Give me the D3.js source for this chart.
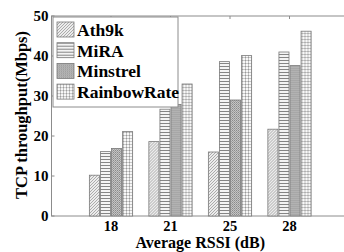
<!DOCTYPE html>
<html>
<head>
<meta charset="utf-8">
<script src="https://cdn.jsdelivr.net/npm/d3@7/dist/d3.min.js"></script>
<style>
    body { margin: 0; background: #fff; }
    text { font-family: "Liberation Serif", "Times New Roman", serif; font-weight: bold; fill: #000; }
</style>
</head>
<body>
<div id="vis"></div>
<script>
    var categories = ["18", "21", "25", "28"];
    var series = ["Ath9k", "MiRA", "Minstrel", "RainbowRate"];
    var ath9k = [10.2, 18.6, 16, 21.7];
    var mira = [16.1, 26.7, 38.6, 41];
    var minstrel = [16.9, 27.9, 29, 37.6];
    var rainbow = [21.1, 33, 40.1, 46.2];
    var yTicks = [0, 10, 20, 30, 40, 50];

    var values = [ath9k, mira, minstrel, rainbow];

    var width = 344,
        height = 252;

    var svg = d3.select("#vis").append("svg")
        .attr("width", width)
        .attr("height", height);

    // fill patterns like the matlab hatch styles
    var defs = svg.append("defs");

    var p0 = defs.append("pattern").attr("id", "pat0")
        .attr("patternUnits", "userSpaceOnUse").attr("width", 3).attr("height", 3);
    p0.append("rect").attr("width", 3).attr("height", 3).attr("fill", "#ececec");
    p0.append("path").attr("d", "M0,3 L3,0 M-1,1 L1,-1 M2,4 L4,2")
        .attr("stroke", "#9a9a9a").attr("stroke-width", 0.8);

    var p1 = defs.append("pattern").attr("id", "pat1")
        .attr("patternUnits", "userSpaceOnUse").attr("width", 4).attr("height", 3);
    p1.append("rect").attr("width", 4).attr("height", 3).attr("fill", "#f4f4f4");
    p1.append("rect").attr("y", 0).attr("width", 4).attr("height", 1).attr("fill", "#858585");

    var p2 = defs.append("pattern").attr("id", "pat2")
        .attr("patternUnits", "userSpaceOnUse").attr("width", 2).attr("height", 2);
    p2.append("rect").attr("width", 2).attr("height", 2).attr("fill", "#c4c4c4");
    p2.append("rect").attr("width", 1).attr("height", 1).attr("fill", "#8a8a8a");
    p2.append("rect").attr("x", 1).attr("y", 1).attr("width", 1).attr("height", 1).attr("fill", "#a0a0a0");

    var p3 = defs.append("pattern").attr("id", "pat3")
        .attr("patternUnits", "userSpaceOnUse").attr("width", 3).attr("height", 3);
    p3.append("rect").attr("width", 3).attr("height", 3).attr("fill", "#f8f8f8");
    p3.append("rect").attr("width", 1).attr("height", 3).attr("fill", "#c2c2c2");
    p3.append("rect").attr("width", 3).attr("height", 1).attr("fill", "#c8c8c8");
    p3.append("rect").attr("width", 1).attr("height", 1).attr("fill", "#999");

    var x = d3.scaleLinear()
        .domain([0, 5])
        .range([51.5, 349]);

    var y = d3.scaleLinear()
        .domain([0, 50])
        .range([216, 16]);

    var groupWidth = 4 / 5.5;
    var inner = d3.scaleBand()
        .domain(series)
        .range([-(x(groupWidth) - x(0)) / 2, (x(groupWidth) - x(0)) / 2])
        .paddingInner(0.09);

    var axisColor = "#8c8c8c";

    // plot box
    svg.append("rect")
        .attr("x", x(0))
        .attr("y", y(50))
        .attr("width", x(5) - x(0))
        .attr("height", y(0) - y(50))
        .attr("fill", "none")
        .attr("stroke", axisColor);

    // top ticks (inward)
    svg.append("g")
        .selectAll("line")
        .data(d3.range(1, 5))
        .enter().append("line")
        .attr("x1", function(d) { return x(d); })
        .attr("x2", function(d) { return x(d); })
        .attr("y1", y(50))
        .attr("y2", y(50) + 3)
        .attr("stroke", axisColor);

    // y ticks (inward)
    svg.append("g")
        .selectAll("line")
        .data(yTicks)
        .enter().append("line")
        .attr("x1", x(0))
        .attr("x2", x(0) + 3)
        .attr("y1", function(d) { return y(d); })
        .attr("y2", function(d) { return y(d); })
        .attr("stroke", axisColor);

    svg.append("g")
        .selectAll("text")
        .data(yTicks)
        .enter().append("text")
        .attr("x", x(0) - 3)
        .attr("y", function(d) { return y(d); })
        .attr("dy", "0.35em")
        .attr("text-anchor", "end")
        .style("font-size", "15px")
        .text(function(d) { return d; });

    // bars
    var groups = svg.append("g")
        .selectAll("g")
        .data(categories)
        .enter().append("g")
        .attr("transform", function(d, i) { return "translate(" + x(i + 1) + ",0)"; });

    groups.selectAll("rect")
        .data(function(d, i) {
            return series.map(function(s, j) { return { s: s, j: j, v: values[j][i] }; });
        })
        .enter().append("rect")
        .attr("x", function(d) { return inner(d.s); })
        .attr("y", function(d) { return y(d.v); })
        .attr("width", inner.bandwidth())
        .attr("height", function(d) { return y(0) - y(d.v); })
        .attr("fill", function(d) { return "url(#pat" + d.j + ")"; })
        .attr("stroke", "#7a7a7a")
        .attr("stroke-width", 0.8);

    // x tick labels
    svg.append("g")
        .selectAll("text")
        .data(categories)
        .enter().append("text")
        .attr("x", function(d, i) { return x(i + 1); })
        .attr("y", 231)
        .attr("text-anchor", "middle")
        .style("font-size", "14.5px")
        .text(function(d) { return d; });

    // axis titles
    svg.append("text")
        .attr("x", x(2.5))
        .attr("y", 248)
        .attr("text-anchor", "middle")
        .style("font-size", "16px")
        .text("Average RSSI (dB)");

    svg.append("text")
        .attr("transform", "translate(27,115) rotate(-90)")
        .attr("text-anchor", "middle")
        .style("font-size", "16.5px")
        .text("TCP throughput(Mbps)");

    // legend
    var legend = svg.append("g")
        .attr("transform", "translate(53,17)");

    legend.append("rect")
        .attr("width", 125)
        .attr("height", 90)
        .attr("fill", "#fff")
        .attr("stroke", axisColor);

    var item = legend.selectAll(".item")
        .data(series)
        .enter().append("g")
        .attr("class", "item")
        .attr("transform", function(d, i) { return "translate(4," + (5 + i * 20.7) + ")"; });

    item.append("rect")
        .attr("width", 17)
        .attr("height", 15)
        .attr("fill", function(d, i) { return "url(#pat" + i + ")"; })
        .attr("stroke", "#7a7a7a")
        .attr("stroke-width", 0.8);

    item.append("text")
        .attr("x", 20)
        .attr("y", 14)
        .style("font-size", "17.5px")
        .text(function(d) { return d; });
</script>
</body>
</html>
